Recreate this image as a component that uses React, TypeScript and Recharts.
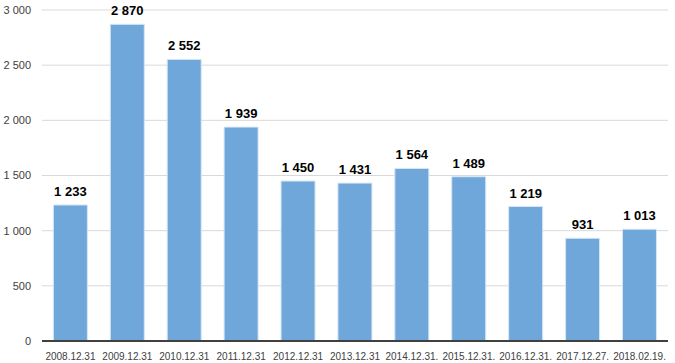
import React from 'react';
import { BarChart, Bar, XAxis, YAxis, CartesianGrid, LabelList } from 'recharts';

// Dates as printed under each bar
const dates = [
  '2008.12.31', '2009.12.31', '2010.12.31', '2011.12.31', '2012.12.31', '2013.12.31',
  '2014.12.31.', '2015.12.31.', '2016.12.31.', '2017.12.27.', '2018.02.19.',
];
const counts = [1233, 2870, 2552, 1939, 1450, 1431, 1564, 1489, 1219, 931, 1013];
const yTicks = [0, 500, 1000, 1500, 2000, 2500, 3000];

const data = dates.map((d, i) => ({ date: d, value: counts[i] }));

// 2870 -> "2 870" (non-breaking space so the label never wraps)
const fmt = (v: number) => String(v).replace(/\B(?=(\d{3})+(?!\d))/g, '\u00a0');

const App: React.FC = () => {
  return (
    <div style={{ width: 675, height: 363, background: '#fff' }}>
      <style>{'body{margin:0}'}</style>
      <BarChart
        width={675}
        height={363}
        data={data}
        margin={{ top: 10, right: 7, left: 0, bottom: 0 }}
        barCategoryGap="20%"
        style={{ fontFamily: '"Liberation Sans", Arial, sans-serif' }}
      >
        <CartesianGrid vertical={false} stroke="#d9d9d9" />
        <XAxis
          dataKey="date"
          height={22}
          tickLine={false}
          axisLine={{ stroke: '#404040', strokeWidth: 2 }}
          tick={{ fontSize: 10, fill: '#404040' }}
          tickMargin={6}
          interval={0}
        />
        <YAxis
          width={42}
          domain={[0, 3000]}
          ticks={yTicks}
          tickFormatter={fmt}
          axisLine={false}
          tickLine={false}
          tickSize={0}
          tickMargin={11}
          tick={{ fontSize: 11, fill: '#404040' }}
        />
        <Bar dataKey="value" fill="#70a7db" stroke="#d6e6f6" strokeWidth={1} isAnimationActive={false}>
          <LabelList
            dataKey="value"
            position="top"
            offset={9}
            formatter={(v: any) => fmt(Number(v))}
            style={{ fontSize: 13, fontWeight: 'bold', fill: '#000' }}
          />
        </Bar>
      </BarChart>
    </div>
  );
};

export default App;
